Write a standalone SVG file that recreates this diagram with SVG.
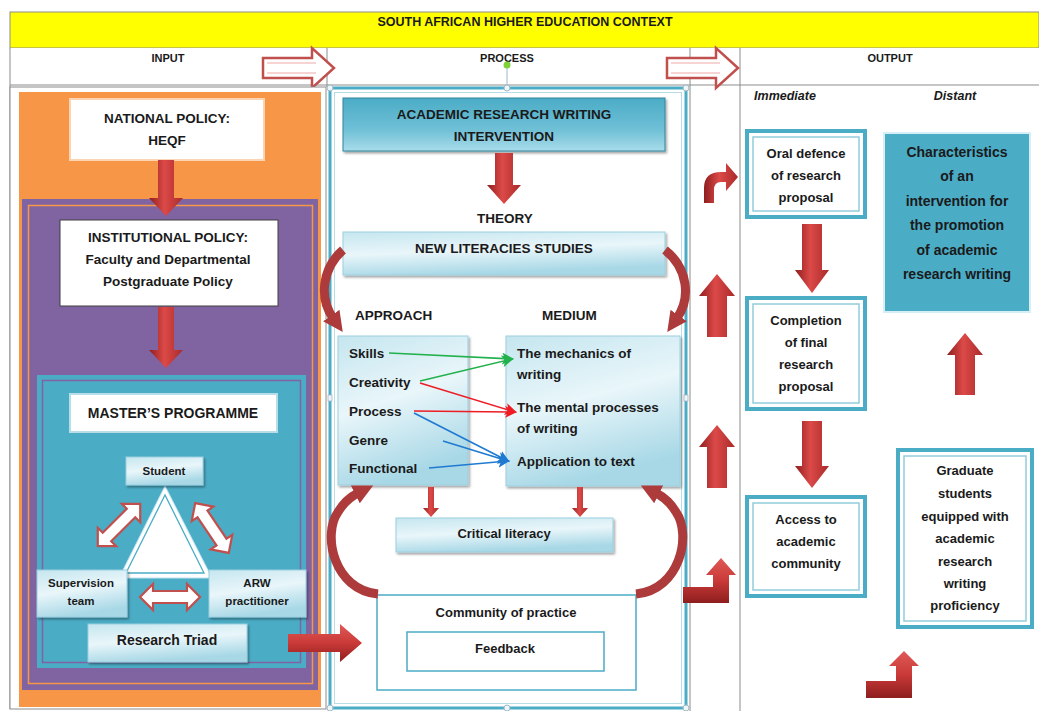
<svg xmlns="http://www.w3.org/2000/svg" width="1039" height="711" viewBox="0 0 1039 711">
<defs>
<style>
.t{font-family:"Liberation Sans",Arial,sans-serif;font-weight:bold;fill:#1a1a1a;text-anchor:middle;dominant-baseline:central}
.l{text-anchor:start}
.i{font-style:italic}
.gl{stroke:#8c8c8c;stroke-width:1;fill:none}
.red{fill:url(#rv)}
.redh{fill:url(#rh)}
.lb{fill:url(#lg);stroke:#9ccfe0;stroke-width:1;filter:url(#sh)}
.ob{fill:#fff;stroke:#4bacc6;stroke-width:4}
.oi{fill:none;stroke:#92cddc;stroke-width:1.5}
.hol{fill:#fff;stroke:#c0504d;stroke-width:2.5}
.crv{fill:none;stroke:#ad3b3b;stroke-width:9}
</style>
<linearGradient id="rv" x1="0" y1="0" x2="1" y2="0">
<stop offset="0" stop-color="#8e1e1e"/><stop offset="0.45" stop-color="#dc4a48"/><stop offset="1" stop-color="#a92a2a"/>
</linearGradient>
<linearGradient id="rh" x1="0" y1="0" x2="0" y2="1">
<stop offset="0" stop-color="#e05a57"/><stop offset="0.5" stop-color="#c93a38"/><stop offset="1" stop-color="#8e1e1e"/>
</linearGradient>
<linearGradient id="lg" x1="0" y1="0" x2="0.3" y2="1">
<stop offset="0" stop-color="#c5e6ef"/><stop offset="0.5" stop-color="#e9f6fa"/><stop offset="1" stop-color="#a8d8e6"/>
</linearGradient>
<linearGradient id="tg" x1="0" y1="0" x2="0" y2="1">
<stop offset="0" stop-color="#4bacc6"/><stop offset="0.6" stop-color="#6fc0d6"/><stop offset="1" stop-color="#a9dcea"/>
</linearGradient>
<filter id="sh" x="-10%" y="-10%" width="125%" height="135%">
<feDropShadow dx="1.5" dy="2" stdDeviation="1.2" flood-color="#000" flood-opacity="0.35"/>
</filter>
<marker id="ch" markerUnits="userSpaceOnUse" markerWidth="22" markerHeight="22" refX="3" refY="11" orient="auto" viewBox="0 0 22 22">
<path d="M0 1 L20 11 L0 21 Z" fill="#ad3b3b"/>
</marker>
<marker id="mg" markerUnits="userSpaceOnUse" markerWidth="12" markerHeight="12" refX="10" refY="6" orient="auto" viewBox="0 0 12 12">
<path d="M0 0 L12 6 L0 12 L3 6 Z" fill="#22b14c"/>
</marker>
<marker id="mr" markerUnits="userSpaceOnUse" markerWidth="12" markerHeight="12" refX="10" refY="6" orient="auto" viewBox="0 0 12 12">
<path d="M0 0 L12 6 L0 12 L3 6 Z" fill="#ee1c24"/>
</marker>
<marker id="mb" markerUnits="userSpaceOnUse" markerWidth="12" markerHeight="12" refX="10" refY="6" orient="auto" viewBox="0 0 12 12">
<path d="M0 0 L12 6 L0 12 L3 6 Z" fill="#1f7ad1"/>
</marker>
<path id="dbl" d="M-30 0 L-17 -13 L-17 -6 L17 -6 L17 -13 L30 0 L17 13 L17 6 L-17 6 L-17 13 Z"/>
</defs>

<!-- frame / header -->
<g id="header">
<rect x="10" y="12" width="1029" height="36" fill="#ffff00" stroke="#8c8c8c" stroke-width="1"/>
<text class="t" x="525" y="22" font-size="12.5">SOUTH AFRICAN HIGHER EDUCATION CONTEXT</text>
<rect x="10" y="48" width="1029" height="37" fill="#fff"/>
<line class="gl" x1="10" y1="85" x2="1039" y2="85"/>
<line class="gl" x1="10" y1="48" x2="10" y2="709"/>
<line class="gl" x1="327" y1="48" x2="327" y2="87"/>
<line class="gl" x1="690" y1="48" x2="690" y2="711"/>
<line class="gl" x1="740" y1="48" x2="740" y2="711"/>
<text class="t" x="168" y="58" font-size="11">INPUT</text>
<text class="t" x="507" y="58" font-size="11">PROCESS</text>
<text class="t" x="890" y="58" font-size="11">OUTPUT</text>
<path class="hol" d="M263 58 L312 58 L312 48 L334 68 L312 88 L312 78 L263 78 Z"/>
<path d="M267 63 L316 63 M267 73 L316 73" stroke="#f2c6c5" stroke-width="1.5"/>
<path class="hol" d="M667 58 L716 58 L716 48 L738 68 L716 88 L716 78 L667 78 Z"/>
<path d="M671 63 L720 63 M671 73 L720 73" stroke="#f2c6c5" stroke-width="1.5"/>
</g>

<!-- input column -->
<g id="input-column">
<rect x="10" y="87" width="316" height="622" fill="#fff" stroke="#8c8c8c" stroke-width="1"/>
<rect x="19" y="92" width="302" height="615" fill="#f79646"/>
<rect x="22" y="199" width="296" height="491" fill="#8064a2"/>
<rect x="28.5" y="205.5" width="284" height="478" fill="none" stroke="#f79646" stroke-width="1.5"/>
<rect x="37" y="375" width="269" height="293" fill="#4bacc6"/>
<rect x="42.5" y="380.5" width="258" height="282" fill="none" stroke="#8064a2" stroke-width="1.5"/>
</g>

<g id="national-policy">
<rect x="70" y="99" width="194" height="61" fill="#fff" stroke="#fbd4b4" stroke-width="2"/>
<text class="t" x="167" y="118" font-size="13.5">NATIONAL POLICY:</text>
<text class="t" x="167" y="140" font-size="13.5">HEQF</text>
</g>
<g id="institutional-policy">
<rect x="60" y="220" width="218" height="86" fill="#fff" stroke="#3f3f3f" stroke-width="1"/>
<text class="t" x="168" y="237" font-size="13.5">INSTITUTIONAL POLICY:</text>
<text class="t" x="168" y="259" font-size="13.5">Faculty and Departmental</text>
<text class="t" x="168" y="281" font-size="13.5">Postgraduate Policy</text>
</g>
<g id="masters-programme">
<rect x="70" y="394" width="207" height="38" fill="#fff" stroke="#b6dde8" stroke-width="2"/>
<text class="t" x="173" y="413" font-size="14">MASTER’S PROGRAMME</text>
</g>
<g id="triad-triangle">
<polygon points="165,486 119,578 212,578" fill="#fff" stroke="#bfe3ee" stroke-width="1"/>
<polygon points="165,495 126,573 204,573" fill="#fff" stroke="#4bacc6" stroke-width="1.3"/>
</g>
<g id="student">
<rect class="lb" x="126" y="457" width="77" height="28"/>
<text class="t" x="164" y="471" font-size="11.5">Student</text>
</g>
<g id="supervision-team">
<rect class="lb" x="37" y="570" width="90" height="47"/>
<text class="t" x="81" y="583" font-size="11.5">Supervision</text>
<text class="t" x="81" y="601" font-size="11.5">team</text>
</g>
<g id="arw-practitioner">
<rect class="lb" x="209" y="570" width="97" height="47"/>
<text class="t" x="257" y="583" font-size="11.5">ARW</text>
<text class="t" x="257" y="601" font-size="11.5">practitioner</text>
</g>
<g id="research-triad">
<rect class="lb" x="88" y="624" width="159" height="38"/>
<text class="t" x="167" y="640" font-size="14">Research Triad</text>
</g>

<!-- process column -->
<g id="process-frame">
<rect x="330" y="88" width="356" height="620" fill="#fff" stroke="#4bacc6" stroke-width="3"/>
<rect x="334.5" y="92.5" width="347" height="611" fill="none" stroke="#b6dde8" stroke-width="1"/>
<line x1="507" y1="66" x2="507" y2="88" stroke="#9fb8c8" stroke-width="1"/>
<circle cx="507" cy="65" r="3.5" fill="#7fd13b"/>
<circle cx="330" cy="88" r="3" fill="#eef6fa" stroke="#9fb8c8"/>
<circle cx="507" cy="88" r="3" fill="#eef6fa" stroke="#9fb8c8"/>
<circle cx="686" cy="88" r="3" fill="#eef6fa" stroke="#9fb8c8"/>
<circle cx="330" cy="708" r="3" fill="#eef6fa" stroke="#9fb8c8"/>
<circle cx="507" cy="708" r="3" fill="#eef6fa" stroke="#9fb8c8"/>
<circle cx="686" cy="708" r="3" fill="#eef6fa" stroke="#9fb8c8"/>
<rect x="328" y="395" width="4" height="6" fill="#eef6fa" stroke="#9fb8c8" stroke-width="0.8"/>
<rect x="684" y="395" width="4" height="6" fill="#eef6fa" stroke="#9fb8c8" stroke-width="0.8"/>
</g>
<g id="arw-intervention">
<rect x="343" y="98" width="322" height="53" fill="url(#tg)" stroke="#31859c" stroke-width="1" filter="url(#sh)"/>
<text class="t" x="504" y="114" font-size="13.5">ACADEMIC RESEARCH WRITING</text>
<text class="t" x="504" y="136" font-size="13.5">INTERVENTION</text>
</g>
<text class="t" x="505" y="218" font-size="13.5">THEORY</text>
<g id="new-literacies">
<rect class="lb" x="343" y="232" width="322" height="43"/>
<text class="t" x="504" y="248" font-size="13.5">NEW LITERACIES STUDIES</text>
</g>
<text class="t l" x="355" y="315" font-size="13.5">APPROACH</text>
<text class="t l" x="542" y="315" font-size="13.5">MEDIUM</text>
<g id="approach">
<rect class="lb" x="338" y="336" width="130" height="149"/>
<text class="t l" x="349" y="353" font-size="13.5">Skills</text>
<text class="t l" x="349" y="382" font-size="13.5">Creativity</text>
<text class="t l" x="349" y="411" font-size="13.5">Process</text>
<text class="t l" x="349" y="440" font-size="13.5">Genre</text>
<text class="t l" x="349" y="468" font-size="13.5">Functional</text>
</g>
<g id="medium">
<rect class="lb" x="506" y="336" width="174" height="150"/>
<text class="t l" x="517" y="353" font-size="13.5">The mechanics of</text>
<text class="t l" x="517" y="374" font-size="13.5">writing</text>
<text class="t l" x="517" y="407" font-size="13.5">The mental processes</text>
<text class="t l" x="517" y="428" font-size="13.5">of writing</text>
<text class="t l" x="517" y="461" font-size="13.5">Application to text</text>
</g>
<g id="critical-literacy">
<rect class="lb" x="396" y="518" width="217" height="34"/>
<text class="t" x="504" y="533" font-size="13">Critical literacy</text>
</g>
<g id="community-of-practice">
<rect x="377" y="595" width="259" height="95" fill="#fff" stroke="#4bacc6" stroke-width="1.5"/>
<text class="t" x="506" y="612" font-size="13">Community of practice</text>
</g>
<g id="feedback">
<rect x="407" y="632" width="197" height="39" fill="#fff" stroke="#4bacc6" stroke-width="1.5"/>
<text class="t" x="505" y="648" font-size="13">Feedback</text>
</g>

<!-- output column -->
<text class="t i" x="785" y="96" font-size="12.5">Immediate</text>
<text class="t i" x="955" y="96" font-size="12.5">Distant</text>
<g id="oral-defence">
<rect class="ob" x="747" y="131" width="118" height="86"/>
<rect class="oi" x="753" y="137" width="106" height="74"/>
<text class="t" x="806" y="153" font-size="13">Oral defence</text>
<text class="t" x="806" y="175" font-size="13">of research</text>
<text class="t" x="806" y="197" font-size="13">proposal</text>
</g>
<g id="completion">
<rect class="ob" x="747" y="298" width="118" height="111"/>
<rect class="oi" x="753" y="304" width="106" height="99"/>
<text class="t" x="806" y="320" font-size="13">Completion</text>
<text class="t" x="806" y="342" font-size="13">of final</text>
<text class="t" x="806" y="364" font-size="13">research</text>
<text class="t" x="806" y="386" font-size="13">proposal</text>
</g>
<g id="access">
<rect class="ob" x="747" y="497" width="118" height="99"/>
<rect class="oi" x="753" y="503" width="106" height="87"/>
<text class="t" x="806" y="519" font-size="13">Access to</text>
<text class="t" x="806" y="541" font-size="13">academic</text>
<text class="t" x="806" y="563" font-size="13">community</text>
</g>
<g id="characteristics">
<rect x="884" y="133" width="146" height="179" fill="#4bacc6" stroke="#d6eef5" stroke-width="2"/>
<text class="t" x="957" y="152" font-size="14">Characteristics</text>
<text class="t" x="957" y="176" font-size="14">of an</text>
<text class="t" x="957" y="201" font-size="14">intervention for</text>
<text class="t" x="957" y="225" font-size="14">the promotion</text>
<text class="t" x="957" y="250" font-size="14">of academic</text>
<text class="t" x="957" y="274" font-size="14">research writing</text>
</g>
<g id="graduate-students">
<rect class="ob" x="898" y="450" width="134" height="177"/>
<rect class="oi" x="904" y="456" width="122" height="165"/>
<text class="t" x="965" y="470" font-size="13">Graduate</text>
<text class="t" x="965" y="493" font-size="13">students</text>
<text class="t" x="965" y="516" font-size="13">equipped with</text>
<text class="t" x="965" y="538" font-size="13">academic</text>
<text class="t" x="965" y="561" font-size="13">research</text>
<text class="t" x="965" y="583" font-size="13">writing</text>
<text class="t" x="965" y="605" font-size="13">proficiency</text>
</g>

<!-- connectors -->
<g id="connectors">
<path class="red" d="M158 160 L174 160 L174 198 L183 198 L166 216 L149 198 L158 198 Z"/>
<path class="red" d="M158 307 L174 307 L174 350 L183 350 L166 368 L149 350 L158 350 Z"/>
<path class="redh" d="M288 634 L340 634 L340 624 L362 643 L340 662 L340 652 L288 652 Z"/>
<use href="#dbl" transform="translate(170 597)" fill="#fff" stroke="#c0504d" stroke-width="2.2"/>
<use href="#dbl" transform="translate(119 525) rotate(-45)" fill="#fff" stroke="#c0504d" stroke-width="2.2"/>
<use href="#dbl" transform="translate(212 528) rotate(56)" fill="#fff" stroke="#c0504d" stroke-width="2.2"/>
<path class="red" d="M495 153 L513 153 L513 185 L521 185 L504 204 L487 185 L495 185 Z"/>
<path d="M343 250 C 322 268, 319 298, 333 318" class="crv" marker-end="url(#ch)"/>
<path d="M665 250 C 688 268, 691 298, 677 318" class="crv" marker-end="url(#ch)"/>
<path d="M378 594 C 334 590, 322 535, 338 512 C 344 502, 350 497, 358 493" class="crv" stroke-width="10" marker-end="url(#ch)"/>
<path d="M636 594 C 680 590, 692 535, 676 512 C 670 502, 664 497, 656 493" class="crv" stroke-width="10" marker-end="url(#ch)"/>
<path class="red" d="M428 487 L434 487 L434 508 L439 508 L431 517 L423 508 L428 508 Z"/>
<path class="red" d="M577 487 L583 487 L583 508 L588 508 L580 517 L572 508 L577 508 Z"/>
<line x1="389" y1="353" x2="512" y2="359" stroke="#22b14c" stroke-width="1.6" marker-end="url(#mg)"/>
<line x1="420" y1="381" x2="512" y2="359" stroke="#22b14c" stroke-width="1.6" marker-end="url(#mg)"/>
<line x1="420" y1="383" x2="515" y2="412" stroke="#ee1c24" stroke-width="1.6" marker-end="url(#mr)"/>
<line x1="414" y1="411" x2="515" y2="412" stroke="#ee1c24" stroke-width="1.6" marker-end="url(#mr)"/>
<line x1="414" y1="413" x2="508" y2="461" stroke="#1f7ad1" stroke-width="1.6" marker-end="url(#mb)"/>
<line x1="443" y1="441" x2="508" y2="461" stroke="#1f7ad1" stroke-width="1.6" marker-end="url(#mb)"/>
<line x1="429" y1="468" x2="508" y2="461" stroke="#1f7ad1" stroke-width="1.6" marker-end="url(#mb)"/>
<path class="red" d="M704 203 L704 188 Q704 172 721 172 L726 172 L726 163 L738 177 L726 191 L726 182 L721 182 Q714 182 714 190 L714 203 Z"/>
<path class="red" d="M707 337 L727 337 L727 296 L735 296 L717 274 L699 296 L707 296 Z"/>
<path class="red" d="M707 488 L727 488 L727 447 L735 447 L717 425 L699 447 L707 447 Z"/>
<path class="redh" d="M683 587 L713 587 L713 575 L706 575 L721 558 L736 575 L729 575 L729 603 L683 603 Z"/>
<path class="red" d="M802 224 L822 224 L822 270 L829 270 L812 293 L795 270 L802 270 Z"/>
<path class="red" d="M802 421 L822 421 L822 466 L829 466 L812 488 L795 466 L802 466 Z"/>
<path class="red" d="M955 395 L975 395 L975 355 L983 355 L965 333 L947 355 L955 355 Z"/>
<path class="redh" d="M866 681 L896 681 L896 666 L889 666 L904 651 L919 666 L912 666 L912 698 L866 698 Z"/>
</g>
</svg>
